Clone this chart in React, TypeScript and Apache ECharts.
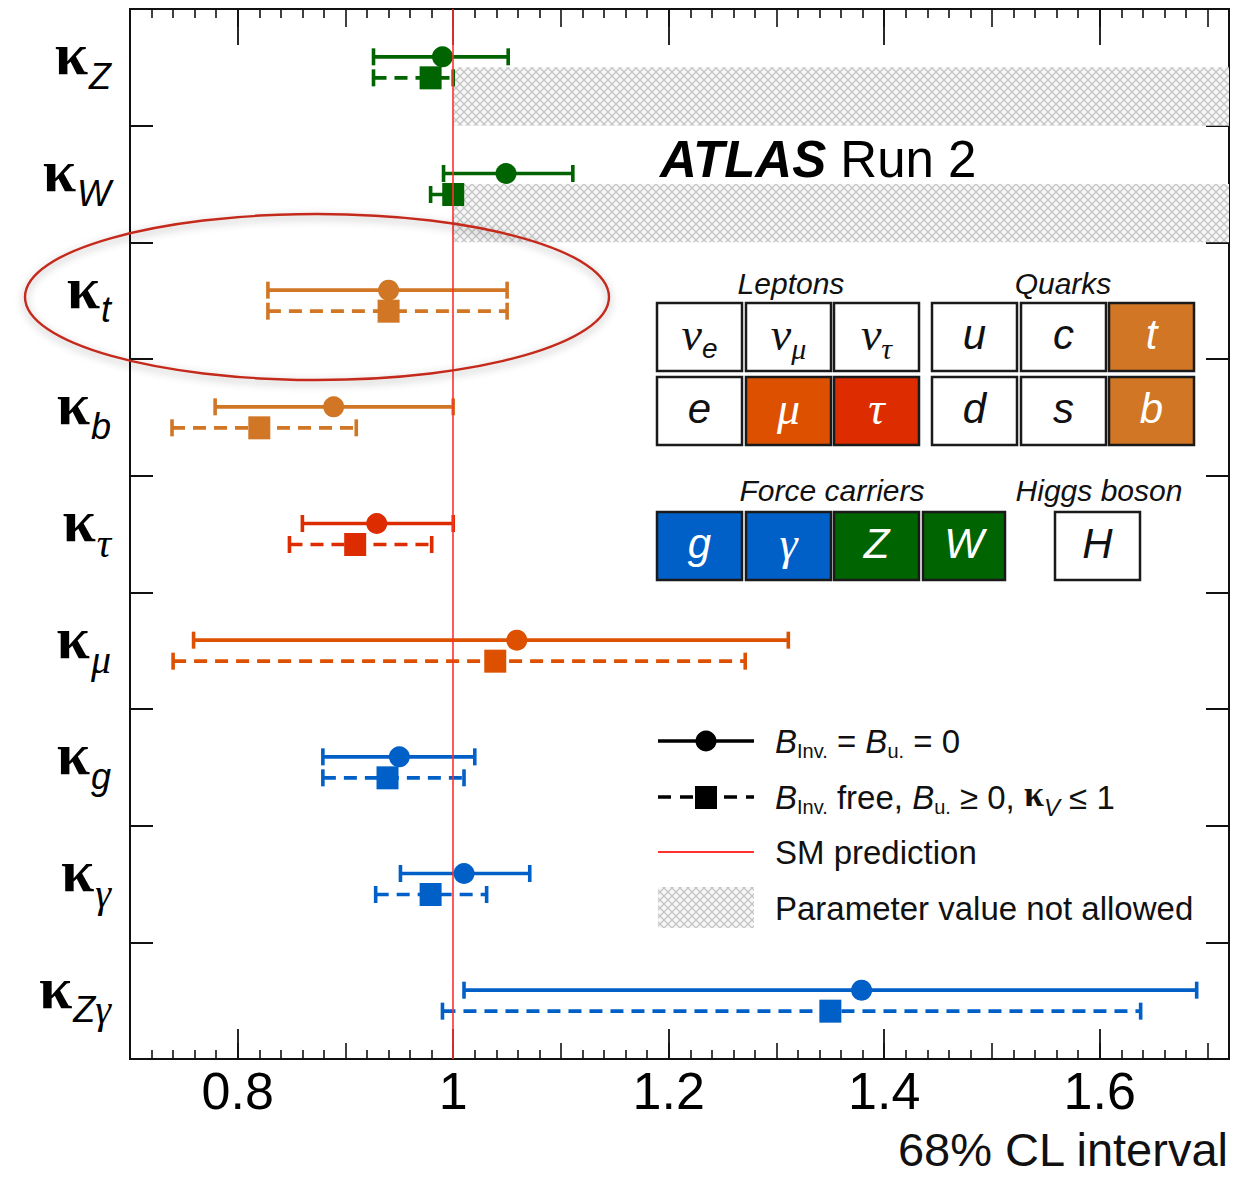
import React, { useEffect, useRef } from 'react';
import * as echarts from 'echarts';

// ---------------- data ----------------
const categories = ['Z', 'W', 't', 'b', 'τ', 'μ', 'g', 'γ', 'Zγ'];
const solidCenter = [0.99, 1.049, 0.94, 0.889, 0.929, 1.059, 0.95, 1.01, 1.379];
const solidLow = [0.926, 0.991, 0.828, 0.779, 0.86, 0.759, 0.879, 0.951, 1.01];
const solidHigh = [1.051, 1.111, 1.05, 1.0, 1.0, 1.311, 1.02, 1.071, 1.69];
const dashedCenter = [0.979, 1.0, 0.94, 0.82, 0.909, 1.039, 0.939, 0.979, 1.35];
const dashedLow = [0.926, 0.979, 0.828, 0.739, 0.848, 0.74, 0.879, 0.928, 0.99];
const dashedHigh = [1.0, 1.0, 1.05, 0.91, 0.98, 1.271, 1.01, 1.031, 1.638];
const rowColors = ['#006400', '#006400', '#d07624', '#d07624', '#dd2c00', '#dd5000', '#0060c8', '#0060c8', '#0060c8'];
const majorTicks = [0.8, 1, 1.2, 1.4, 1.6];
const xMin = 0.7;
const xMax = 1.72;
const smValue = 1;
const notAllowedRows = [0, 1]; // kappa_Z, kappa_W: values above 1 not allowed (kappa_V <= 1)
const xTitle = '68% CL interval';

const GREEK = /[α-ωΑ-Ω]/;

function makeHatch(): HTMLCanvasElement {
  const n = 8;
  const c = document.createElement('canvas');
  c.width = n;
  c.height = n;
  const ctx = c.getContext('2d')!;
  ctx.fillStyle = '#f7f7f7';
  ctx.fillRect(0, 0, n, n);
  ctx.strokeStyle = '#c4c4c4';
  ctx.lineWidth = 1.3;
  ctx.beginPath();
  ctx.moveTo(0, 0);
  ctx.lineTo(n, n);
  ctx.moveTo(n, 0);
  ctx.lineTo(0, n);
  ctx.stroke();
  return c;
}

export default function App() {
  const ref = useRef<HTMLDivElement>(null);

  useEffect(() => {
    if (!ref.current) return;
    const chart = echarts.init(ref.current, undefined, { renderer: 'svg' });
    const hatch = { image: makeHatch(), repeat: 'repeat', imageWidth: 8, imageHeight: 8 } as any;

    const rowOffset = 0.09;
    const solidData = categories.map((_, i) => [solidLow[i], solidHigh[i], solidCenter[i], i + 0.5 - rowOffset]);
    const dashedData = categories.map((_, i) => [dashedLow[i], dashedHigh[i], dashedCenter[i], i + 0.5 + rowOffset]);

    const makeRenderItem = (dashed: boolean) => (params: any, api: any) => {
      const idx = params.dataIndex;
      const y = api.value(3);
      const lo = api.coord([api.value(0), y]);
      const hi = api.coord([api.value(1), y]);
      const c = api.coord([api.value(2), y]);
      const color = rowColors[idx];
      const capH = 8.5;
      const lw = 3.6;
      const children: any[] = [
        {
          type: 'line',
          shape: { x1: lo[0], y1: lo[1], x2: hi[0], y2: hi[1] },
          style: { stroke: color, lineWidth: lw, lineDash: dashed ? [13, 8] : null },
        },
        {
          type: 'line',
          shape: { x1: lo[0], y1: lo[1] - capH, x2: lo[0], y2: lo[1] + capH },
          style: { stroke: color, lineWidth: lw },
        },
        {
          type: 'line',
          shape: { x1: hi[0], y1: hi[1] - capH, x2: hi[0], y2: hi[1] + capH },
          style: { stroke: color, lineWidth: lw },
        },
        dashed
          ? { type: 'rect', shape: { x: c[0] - 11, y: c[1] - 11.5, width: 22, height: 23 }, style: { fill: color } }
          : { type: 'circle', shape: { cx: c[0], cy: c[1], r: 10.5 }, style: { fill: color } },
      ];
      return { type: 'group', children };
    };

    const black = '#111';
    const axisLine = { show: true, onZero: false, lineStyle: { color: black, width: 2 } };

    const xBase = { type: 'value', min: xMin, max: xMax, splitLine: { show: false }, axisLine };

    const labelRich: any = {
      k: { fontFamily: 'Liberation Serif', fontWeight: 'bold', fontSize: 60, color: '#000', padding: [0, 1, 26, 0] },
      s: { fontFamily: 'Liberation Sans', fontStyle: 'italic', fontSize: 36, color: '#000', padding: [18, 0, 0, 0] },
      g: { fontFamily: 'Liberation Serif', fontStyle: 'italic', fontSize: 40, color: '#000', padding: [18, 0, 0, 0] },
    };

    const lepBoxes = [
      { x: 657, y: 303, m: 'ν', s: 'e', fill: '#ffffff' },
      { x: 746, y: 303, m: 'ν', s: 'μ', fill: '#ffffff' },
      { x: 834, y: 303, m: 'ν', s: 'τ', fill: '#ffffff' },
      { x: 932, y: 303, m: 'u', s: '', fill: '#ffffff' },
      { x: 1021, y: 303, m: 'c', s: '', fill: '#ffffff' },
      { x: 1109, y: 303, m: 't', s: '', fill: '#d07624' },
      { x: 657, y: 377, m: 'e', s: '', fill: '#ffffff' },
      { x: 746, y: 377, m: 'μ', s: '', fill: '#dd5000' },
      { x: 834, y: 377, m: 'τ', s: '', fill: '#dd2c00' },
      { x: 932, y: 377, m: 'd', s: '', fill: '#ffffff' },
      { x: 1021, y: 377, m: 's', s: '', fill: '#ffffff' },
      { x: 1109, y: 377, m: 'b', s: '', fill: '#d07624' },
      { x: 657, y: 512, m: 'g', s: '', fill: '#0060c8' },
      { x: 746, y: 512, m: 'γ', s: '', fill: '#0060c8' },
      { x: 834, y: 512, m: 'Z', s: '', fill: '#006400' },
      { x: 923, y: 512, m: 'W', s: '', fill: '#006400' },
      { x: 1055, y: 512, m: 'H', s: '', fill: '#ffffff' },
    ];

    const boxGraphics: any[] = [];
    lepBoxes.forEach((b) => {
      const w = b.x === 923 ? 82 : 85;
      boxGraphics.push({
        type: 'rect',
        shape: { x: b.x, y: b.y, width: w, height: 68 },
        style: { fill: b.fill, stroke: '#1a1a1a', lineWidth: 2.5 },
        z: 10,
      });
      const white = b.fill !== '#ffffff';
      const mainStyle = GREEK.test(b.m) ? 'gm' : 'sm';
      const subStyle = GREEK.test(b.s) ? 'gs' : 'ss';
      const txt = b.s ? `{${mainStyle}|${b.m}}{${subStyle}|${b.s}}` : `{${mainStyle}|${b.m}}`;
      const col = white ? '#ffffff' : '#111111';
      boxGraphics.push({
        type: 'text',
        z: 11,
        style: {
          x: b.x + w / 2,
          y: b.y + 34,
          text: txt,
          align: 'center',
          verticalAlign: 'middle',
          rich: {
            sm: { fontFamily: 'Liberation Sans', fontStyle: 'italic', fontSize: 42, fill: col, padding: [0, 0, 6, 0] },
            gm: { fontFamily: 'Liberation Serif', fontStyle: 'italic', fontSize: 46, fill: col, padding: [0, 0, 6, 0] },
            ss: { fontFamily: 'Liberation Sans', fontStyle: 'italic', fontSize: 28, fill: col, padding: [22, 0, 0, 0] },
            gs: { fontFamily: 'Liberation Serif', fontStyle: 'italic', fontSize: 30, fill: col, padding: [22, 0, 0, 0] },
          },
        },
      });
    });

    const groupLabel = (text: string, x: number, y: number) => ({
      type: 'text',
      z: 11,
      style: {
        x,
        y,
        text,
        align: 'center',
        verticalAlign: 'middle',
        font: 'italic 30px "Liberation Sans"',
        fill: '#111',
      },
    });

    const legRich: any = {
      b: { fontFamily: 'Liberation Sans', fontStyle: 'italic', fontSize: 33, fill: '#111' },
      t: { fontFamily: 'Liberation Sans', fontSize: 33, fill: '#111' },
      sub: { fontFamily: 'Liberation Sans', fontSize: 20, fill: '#111', padding: [20, 0, 0, 0] },
      k: { fontFamily: 'Liberation Serif', fontWeight: 'bold', fontSize: 36, fill: '#111', padding: [0, 0, 6, 0] },
      subi: { fontFamily: 'Liberation Sans', fontStyle: 'italic', fontSize: 24, fill: '#111', padding: [20, 0, 0, 0] },
    };

    const legendText = (text: string, y: number) => ({
      type: 'text',
      z: 11,
      style: { x: 775, y, text, align: 'left', verticalAlign: 'middle', rich: legRich, font: '33px "Liberation Sans"', fill: '#111' },
    });

    const option: any = {
      animation: false,
      backgroundColor: '#ffffff',
      grid: { left: 130, right: 29, top: 9, bottom: 120, containLabel: false, outerBoundsMode: 'none' },
      xAxis: [
        {
          ...xBase,
          position: 'bottom',
          interval: 0.1,
          axisTick: { show: true, inside: true, length: 16, lineStyle: { color: black, width: 1.6 } },
          minorTick: { show: true, splitNumber: 5, length: 9, lineStyle: { color: black, width: 1.6 } },
          axisLabel: { show: false },
        },
        {
          ...xBase,
          position: 'bottom',
          axisTick: { show: true, inside: true, length: 30, customValues: majorTicks, lineStyle: { color: black, width: 1.8 } },
          axisLabel: {
            show: true,
            customValues: majorTicks,
            margin: 6,
            fontFamily: 'Liberation Sans',
            fontSize: 52,
            color: '#000',
            formatter: (v: number) => (v === 1 ? '1' : String(v)),
          },
        },
        {
          ...xBase,
          position: 'top',
          interval: 0.1,
          axisTick: { show: true, inside: true, length: 18, lineStyle: { color: black, width: 1.6 } },
          minorTick: { show: true, splitNumber: 5, length: 9, lineStyle: { color: black, width: 1.6 } },
          axisLabel: { show: false },
        },
        {
          ...xBase,
          position: 'top',
          axisTick: { show: true, inside: true, length: 36, customValues: majorTicks, lineStyle: { color: black, width: 1.8 } },
          axisLabel: { show: false },
        },
      ],
      yAxis: [
        {
          type: 'value',
          min: 0,
          max: categories.length,
          interval: 1,
          inverse: true,
          position: 'left',
          splitLine: { show: false },
          axisLine,
          axisTick: { show: true, inside: true, length: 23, lineStyle: { color: black, width: 2 } },
          axisLabel: { show: false },
        },
        {
          type: 'value',
          min: 0,
          max: categories.length,
          interval: 1,
          inverse: true,
          position: 'right',
          splitLine: { show: false },
          axisLine,
          axisTick: { show: true, inside: true, length: 23, lineStyle: { color: black, width: 2 } },
          axisLabel: { show: false },
        },
        {
          type: 'category',
          data: categories,
          inverse: true,
          position: 'left',
          axisLine: { show: false, onZero: false },
          axisTick: { show: false },
          splitLine: { show: false },
          axisLabel: {
            margin: 19,
            formatter: (v: string) =>
              '{k|κ}' + Array.from(v).map((ch) => (GREEK.test(ch) ? `{g|${ch}}` : `{s|${ch}}`)).join(''),
            rich: labelRich,
          },
        },
      ],
      series: [
        {
          type: 'line',
          xAxisIndex: 0,
          yAxisIndex: 0,
          data: [],
          silent: true,
          z: 1,
          markArea: {
            silent: true,
            itemStyle: { color: hatch },
            data: notAllowedRows.map((r) => [
              { xAxis: smValue, yAxis: r + 0.5 },
              { xAxis: xMax, yAxis: r + 1 },
            ]),
          },
          markLine: {
            silent: true,
            symbol: 'none',
            label: { show: false },
            lineStyle: { color: '#ff3030', width: 1.6, type: 'solid' },
            data: [{ xAxis: smValue }],
          },
        },
        {
          type: 'custom',
          name: 'solid',
          xAxisIndex: 0,
          yAxisIndex: 0,
          z: 3,
          clip: false,
          encode: { x: [0, 1, 2], y: 3 },
          data: solidData,
          renderItem: makeRenderItem(false),
        },
        {
          type: 'custom',
          name: 'dashed',
          xAxisIndex: 0,
          yAxisIndex: 0,
          z: 3,
          clip: false,
          encode: { x: [0, 1, 2], y: 3 },
          data: dashedData,
          renderItem: makeRenderItem(true),
        },
      ],
      graphic: [
        {
          type: 'text',
          z: 11,
          style: {
            x: 1228,
            y: 1149,
            text: xTitle,
            align: 'right',
            verticalAlign: 'middle',
            font: '47px "Liberation Sans"',
            fill: '#111',
          },
        },
        {
          type: 'text',
          z: 11,
          style: {
            x: 660,
            y: 159,
            text: '{a|ATLAS}{r| Run 2}',
            align: 'left',
            verticalAlign: 'middle',
            rich: {
              a: { fontFamily: 'Liberation Sans', fontStyle: 'italic', fontWeight: 'bold', fontSize: 51, fill: '#000' },
              r: { fontFamily: 'Liberation Sans', fontSize: 51, fill: '#000' },
            },
          },
        },
        groupLabel('Leptons', 791, 283),
        groupLabel('Quarks', 1063, 283),
        groupLabel('Force carriers', 832, 490),
        groupLabel('Higgs boson', 1099, 490),
        ...boxGraphics,
        // legend
        { type: 'line', z: 11, shape: { x1: 658, y1: 741, x2: 754, y2: 741 }, style: { stroke: '#000', lineWidth: 3.6 } },
        { type: 'circle', z: 12, shape: { cx: 706, cy: 741, r: 10.5 }, style: { fill: '#000' } },
        {
          type: 'line',
          z: 11,
          shape: { x1: 658, y1: 797, x2: 754, y2: 797 },
          style: { stroke: '#000', lineWidth: 3.6, lineDash: [13, 9] },
        },
        { type: 'rect', z: 12, shape: { x: 695, y: 786, width: 22, height: 23 }, style: { fill: '#000' } },
        { type: 'line', z: 11, shape: { x1: 658, y1: 852, x2: 754, y2: 852 }, style: { stroke: '#ff3030', lineWidth: 2 } },
        { type: 'rect', z: 11, shape: { x: 658, y: 887, width: 96, height: 41 }, style: { fill: hatch } },
        legendText('{b|B}{sub|Inv.}{t| = }{b|B}{sub|u.}{t| = 0}', 741),
        legendText('{b|B}{sub|Inv.}{t| free, }{b|B}{sub|u.}{t| ≥ 0, }{k|κ}{subi|V}{t| ≤ 1}', 797),
        legendText('{t|SM prediction}', 852),
        legendText('{t|Parameter value not allowed}', 908),
        // highlight ellipse
        {
          type: 'ellipse',
          z: 20,
          shape: { cx: 317, cy: 297, rx: 292, ry: 83 },
          style: {
            fill: 'none',
            stroke: '#c42a1c',
            lineWidth: 2.4,
            shadowBlur: 8,
            shadowColor: 'rgba(0,0,0,0.35)',
            shadowOffsetY: 3,
          },
        },
      ],
    };

    chart.setOption(option);
    return () => {
      chart.dispose();
    };
  }, []);

  return (
    <div
      ref={ref}
      style={{ position: 'absolute', left: 0, top: 0, width: 1258, height: 1179, background: '#fff' }}
    />
  );
}
